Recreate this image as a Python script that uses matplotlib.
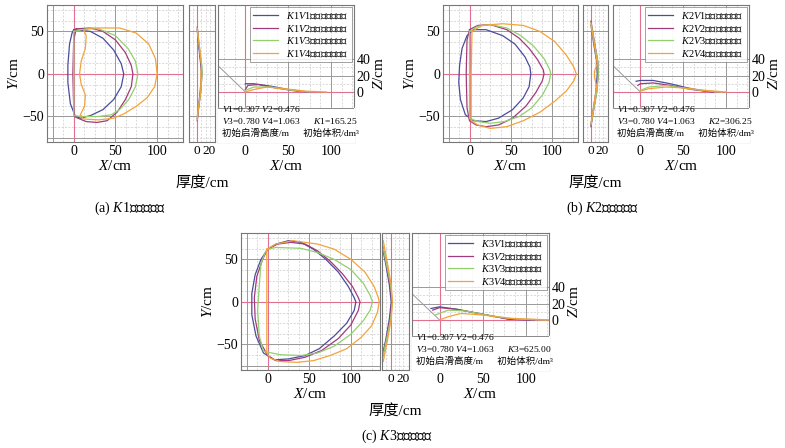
import matplotlib
matplotlib.use("Agg")
import matplotlib.pyplot as plt
import numpy as np

plt.rcParams['font.family'] = ['Liberation Serif', 'Noto Sans CJK SC']
plt.rcParams['mathtext.fontset'] = 'custom'
plt.rcParams['mathtext.rm'] = 'Noto Sans CJK SC'
plt.rcParams['mathtext.it'] = 'Liberation Serif:italic'

colors = ['#4b4c9c', '#a23a7c', '#92d06e', '#f2a43a']
pink = '#e07090'

# plan outlines (x, y) in cm, per panel, curves V1..V4
plan_a = [
    [(0,52),(20,50),(35,42),(48,28),(57,12),(60,0),(57,-15),(48,-30),(35,-42),(20,-49),(8,-52),(2,-50),(-4,-35),(-7,-10),(-7,10),(-5,35),(-2,48),(0,52)],
    [(3,53),(20,54),(35,50),(50,40),(62,25),(69,10),(71,0),(69,-15),(62,-30),(52,-45),(40,-55),(28,-57),(15,-56),(5,-52),(1,-50),(0,-40),(-1,0),(0,40),(3,53)],
    [(0,50),(15,53),(30,53),(50,45),(65,30),(74,15),(77,0),(74,-15),(66,-30),(55,-42),(45,-48),(30,-50),(10,-50),(0,-49),(0,0),(0,50)],
    [(20,54),(55,54),(75,48),(90,35),(98,18),(100,0),(97,-15),(88,-28),(75,-38),(60,-47),(48,-52),(30,-54),(12,-53),(8,-48),(13,-38),(14,-25),(9,-12),(7,0),(9,15),(14,30),(15,45),(12,51),(20,54)],
]
plan_b = [
    [(5,52),(20,52),(40,45),(55,35),(67,20),(73,8),(74,0),(72,-15),(65,-28),(52,-42),(35,-52),(20,-56),(5,-55),(-5,-48),(-11,-30),(-13,-10),(-12,10),(-9,30),(-3,45),(5,52)],
    [(0,52),(10,57),(25,58),(45,52),(60,42),(72,30),(82,17),(89,5),(90,0),(88,-8),(80,-22),(68,-38),(52,-52),(35,-60),(20,-62),(8,-60),(0,-55),(-3,-40),(-4,0),(-3,40),(0,52)],
    [(0,50),(10,56),(25,58),(45,54),(62,45),(78,32),(90,18),(97,5),(98,0),(96,-10),(88,-25),(75,-40),(60,-50),(42,-56),(25,-58),(10,-56),(0,-52),(0,0),(0,50)],
    [(3,50),(15,57),(40,59),(65,57),(85,50),(103,38),(117,22),(126,8),(129,0),(126,-8),(117,-20),(103,-32),(85,-45),(65,-55),(45,-62),(25,-64),(10,-60),(2,-55),(2,0),(3,50)],
]
plan_c = [
    [(0,62),(10,68),(25,72),(40,70),(55,62),(70,50),(85,35),(97,18),(104,5),(106,0),(104,-10),(95,-25),(80,-40),(62,-55),(45,-63),(25,-67),(8,-68),(-5,-60),(-14,-40),(-19,-15),(-19,10),(-15,32),(-8,50),(0,62)],
    [(0,62),(12,68),(28,70),(45,68),(60,60),(75,48),(90,33),(102,18),(109,5),(111,0),(109,-10),(100,-27),(85,-43),(65,-57),(45,-65),(25,-69),(10,-69),(0,-63),(-10,-45),(-15,-20),(-16,5),(-13,30),(-6,50),(0,62)],
    [(0,62),(10,64),(40,63),(60,58),(80,50),(100,38),(115,22),(123,8),(126,0),(123,-10),(115,-22),(100,-38),(80,-52),(60,-60),(40,-63),(15,-62),(-5,-58),(-10,-40),(-12,-10),(-10,20),(-8,45),(-3,58),(0,62)],
    [(-1,62),(10,68),(30,72),(60,68),(80,62),(100,50),(117,35),(128,18),(133,5),(134,0),(132,-12),(125,-28),(112,-42),(95,-55),(75,-63),(55,-69),(35,-71),(15,-70),(3,-66),(-1,-60),(-1,0),(-1,62)],
]

# thickness (t, y) in cm
thick_a = [
    [(0,52),(3,30),(6,10),(7,0),(5,-20),(2,-40),(0,-52)],
    [(0,55),(3,32),(7,10),(8,0),(6,-20),(2,-42),(0,-55)],
    [(0,50),(4,30),(8,8),(8,0),(6,-20),(2,-40),(0,-50)],
    [(0,54),(4,30),(7,10),(6,0),(6,-20),(2,-40),(0,-54)],
]
thick_b = [
    [(0,58),(5,35),(10,15),(11,0),(9,-20),(4,-42),(0,-60)],
    [(0,62),(6,38),(12,15),(13,0),(10,-22),(4,-45),(0,-62)],
    [(0,60),(6,36),(12,15),(13,0),(10,-22),(4,-45),(0,-60)],
    [(0,58),(6,35),(11,12),(6,3),(6,-3),(10,-15),(4,-42),(0,-58)],
]
thick_c = [
    [(-15,70),(-8,45),(-2,20),(1,0),(-2,-20),(-8,-45),(-15,-68)],
    [(-14,70),(-7,45),(-1,20),(2,0),(-1,-20),(-7,-45),(-14,-68)],
    [(-13,66),(-6,42),(0,20),(3,0),(0,-20),(-6,-42),(-12,-62)],
    [(-12,72),(-5,45),(1,20),(3,0),(1,-20),(-5,-45),(-12,-70)],
]

# side profile (x, z) in cm
prof_a = [
    [(0,10),(10,10),(30,7),(50,3),(70,0.5),(75,0)],
    [(0,3),(3,8),(15,9),(35,5),(60,1),(72,0)],
    [(0,2),(10,6),(30,6),(55,2),(75,0)],
    [(0,0),(10,3),(25,6),(45,4),(70,1),(95,0)],
]
prof_b = [
    [(-5,13),(0,14),(15,14),(35,10),(55,5),(75,1),(85,0)],
    [(-3,8),(0,10),(15,11),(35,8),(60,3),(85,0)],
    [(0,2),(10,6),(30,8),(55,4),(80,1),(95,0)],
    [(0,1),(10,4),(30,6),(50,5),(75,2),(100,0)],
]
prof_c = [
    [(-10,14),(0,16),(20,13),(50,7),(80,1),(105,0)],
    [(-8,12),(0,15),(20,13),(50,7),(80,1),(110,0)],
    [(-5,6),(10,12),(30,11),(60,5),(90,1),(125,0)],
    [(0,0),(10,4),(25,8),(50,6),(80,2),(130,0)],
]

k_names = ['1', '2', '3']
k_values = ['165.25', '306.25', '625.00']
captions = ['(a) ', '(b) ', '(c) ']

W, H = 785, 448
fig = plt.figure(figsize=(7.85, 4.48), dpi=100)


def fax(x0, y0, x1, y1):
    return fig.add_axes([x0 / W, 1 - y1 / H, (x1 - x0) / W, (y1 - y0) / H])


def grid(ax, xs_major, xs_minor, ys_major, ys_minor):
    for v in xs_minor:
        ax.axvline(v, color='#cccccc', lw=0.5, ls=(0, (3, 2)), zorder=0)
    for v in ys_minor:
        ax.axhline(v, color='#cccccc', lw=0.5, ls=(0, (3, 2)), zorder=0)
    for v in xs_major:
        ax.axvline(v, color='#999999', lw=0.7, zorder=0)
    for v in ys_major:
        ax.axhline(v, color='#999999', lw=0.7, zorder=0)


def style(ax):
    for s in ax.spines.values():
        s.set_color('#777777')
        s.set_linewidth(0.8)
    ax.tick_params(length=0, labelsize=10, pad=2)


def num(s):
    return r'\mathregular{%s}' % s


def panel(i, ox, oy, plan, thick, prof, plan_x, thick_x, prof_x, xr):
    k = k_names[i]
    # plan view
    ax = fax(ox + plan_x[0], oy, ox + plan_x[1], oy + 137)
    grid(ax, [-25, 50, 100], np.arange(-37.5, 140, 12.5), [-75, 50, -50], np.arange(-75, 80, 12.5))
    ax.axvline(0, color=pink, lw=0.8, zorder=1)
    ax.axhline(0, color=pink, lw=0.8, zorder=1)
    for c, pts in zip(colors, plan):
        p = np.array(pts)
        ax.plot(p[:, 0], p[:, 1], color=c, lw=0.9)
    ax.set_xlim(-32, xr)
    ax.set_ylim(-80, 81)
    ax.set_xticks([0, 50, 100])
    ax.set_yticks([50, 0, -50])
    ax.set_xlabel(r'$X\mathregular{/cm}$', fontsize=11, labelpad=1)
    ax.set_ylabel(r'$Y\mathregular{/cm}$', fontsize=11, labelpad=1)
    style(ax)

    # thickness
    at = fax(ox + thick_x[0], oy, ox + thick_x[1], oy + 137)
    grid(at, [], [-7, 7, 14, 21], [50, -50], np.arange(-75, 80, 12.5))
    at.axvline(0, color=pink, lw=0.8, zorder=1)
    for c, pts in zip(colors, thick):
        p = np.array(pts)
        at.plot(p[:, 0], p[:, 1], color=c, lw=0.9)
    at.set_xlim(-14, 30)
    at.set_ylim(-80, 81)
    at.set_xticks([0, 20])
    at.set_yticks([])
    style(at)
    at.tick_params(labelsize=9.5, pad=2)
    at.set_xlabel('厚度/cm', fontsize=11, labelpad=14)

    # profile
    ap = fax(ox + prof_x[0], oy, ox + prof_x[1], oy + 137)
    grid(ap, [50, 100], np.arange(-25, 140, 12.5), [20, 40], [-20, 10, 30])
    ap.axvline(0, color=pink, lw=0.8, zorder=1)
    ap.axhline(0, color=pink, lw=0.8, zorder=1)
    ap.plot([-40, 0], [40, 0], color='#999999', lw=0.7, zorder=1)
    for j, (c, pts) in enumerate(zip(colors, prof)):
        p = np.array(pts)
        ap.plot(p[:, 0], p[:, 1], color=c, lw=0.9,
                label=r'$K%sV%s$堆积体分布区域' % (num(k), num(j + 1)))
    ap.set_xlim(-32, 127)
    ap.set_ylim(-61, 106)
    ap.set_xticks([0, 50, 100])
    ap.set_yticks([0, 20, 40])
    ap.yaxis.tick_right()
    ap.yaxis.set_label_position('right')
    ap.set_xlabel(r'$X\mathregular{/cm}$', fontsize=11, labelpad=1)
    ap.set_ylabel(r'$Z\mathregular{/cm}$', fontsize=11, labelpad=1)
    style(ap)
    leg = ap.legend(loc='upper right', fontsize=7.5, frameon=True, fancybox=False,
                    borderpad=0.3, labelspacing=0.15, handlelength=2.4,
                    bbox_to_anchor=(1.0, 1.0), borderaxespad=0.2)
    leg.get_frame().set_edgecolor('#777777')
    leg.get_frame().set_linewidth(0.6)
    ap.fill_between([-32, 127], -61, -20, color='white', zorder=3)
    ap.axhline(-20, color='#777777', lw=0.6, zorder=4)
    line1 = r'$V%s$=0.307 $V%s$=0.476' % (num(1), num(2))
    line2 = r'$V%s$=0.780 $V%s$=1.063      $K%s$=%s' % (num(3), num(4), num(k), k_values[i])
    line3 = '初始启滑高度/m      初始体积/dm³'
    ap.text(0.03, 0.03, line1 + '\n' + line2 + '\n' + line3, transform=ap.transAxes,
            fontsize=6.8, va='bottom', linespacing=1.3, zorder=5)


panel(0, 0, 5, plan_a, thick_a, prof_a, (47, 183), (189, 215), (218, 354), 131)
panel(1, 396, 5, plan_b, thick_b, prof_b, (47, 182), (187, 212), (217, 353), 131)
panel(2, 194, 233, plan_c, thick_c, prof_c, (47, 186), (188, 215), (218, 355), 135)

cap_pos = [(130, 208), (602, 208), (397, 436)]
for i, (cx, cy) in enumerate(cap_pos):
    fig.text(cx / W, 1 - cy / H, r'%s$K%s$体积堆积体' % (captions[i], num(k_names[i])),
             ha='center', va='center', fontsize=10)

fig.savefig('out.png', dpi=100, facecolor='white')
